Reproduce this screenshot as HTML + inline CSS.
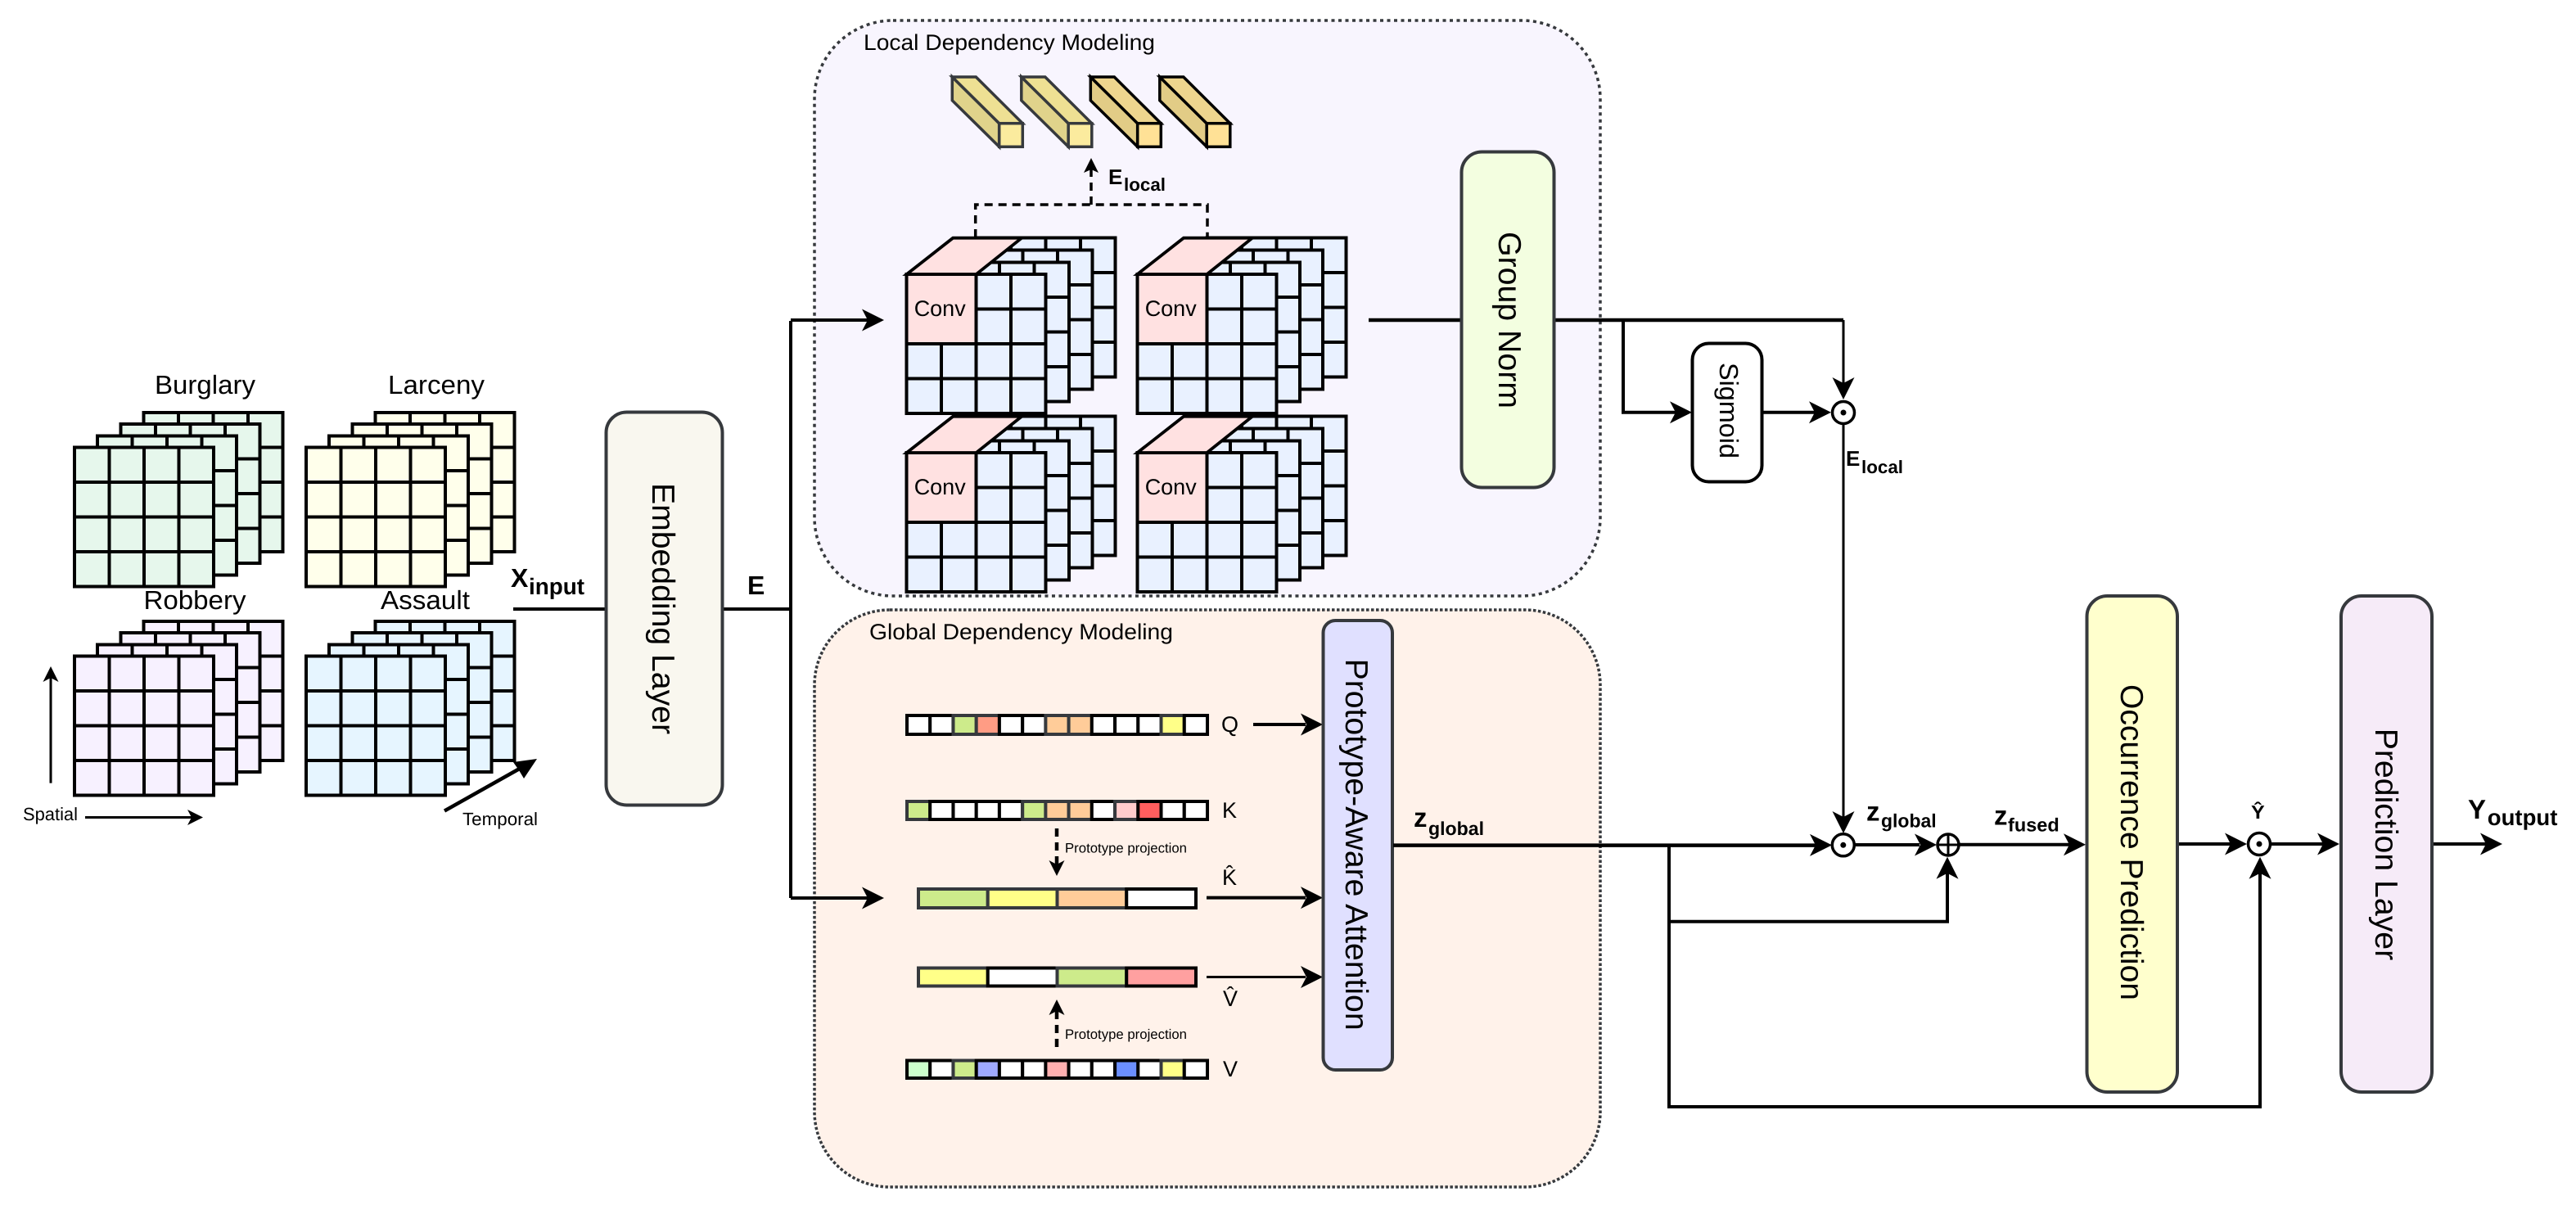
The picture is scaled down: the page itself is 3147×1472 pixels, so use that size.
<!DOCTYPE html>
<html><head><meta charset="utf-8"><style>
html,body{margin:0;padding:0;background:#fff}
svg{display:block}
text{font-family:"Liberation Sans",sans-serif;fill:#000}
.b{font-weight:bold}
.w{fill:#fff;stroke:#000}
.k{stroke:#000}
.d{stroke:#36393d}
.box{stroke:#36393d;stroke-width:4}
.l{stroke:#000;fill:none;stroke-width:4}
</style></head><body>
<svg width="3147" height="1472" viewBox="0 0 3147 1472" xmlns="http://www.w3.org/2000/svg" text-rendering="geometricPrecision">
<defs>
<g id="grid" shape-rendering="crispEdges"><rect width="170" height="170" stroke="#000" stroke-width="4"/><path d="M42.5 0V170M85 0V170M127.5 0V170M0 42.5H170M0 85H170M0 127.5H170" fill="none" stroke="#000" stroke-width="4"/></g>
<g id="stack"><use href="#grid" x="84.5" y="-42.7"/><use href="#grid" x="56.3" y="-28.4"/><use href="#grid" x="28.2" y="-14.2"/><use href="#grid"/></g>
<g id="cube"><g fill="#e9f1ff"><use href="#grid" x="85" y="-44.3"/><use href="#grid" x="56.7" y="-29.3"/><use href="#grid" x="28.3" y="-14.3"/><use href="#grid"/></g>
<rect width="85" height="85" fill="#ffe1e1" stroke="#000" stroke-width="4" shape-rendering="crispEdges"/><path d="M0 0L56.5-44.3H140.5L85 0Z" fill="#ffe1e1" stroke="#000" stroke-width="3.8"/></g>
<polygon id="ah" points="0,0 -27,-13.5 -20,0 -27,13.5" fill="#000"/>
<polygon id="ahs" points="0,0 -19,-9.5 -14,0 -19,9.5" fill="#000"/>
<g id="barA" stroke="#36393d" stroke-width="3.5" stroke-linejoin="miter"><path d="M0 0V28.7L57.4 85.3V56.7Z" fill="#e0d38b"/><path d="M0 0H29L86 56.7H57.4Z" fill="#eee093"/><rect x="57.4" y="56.7" width="28.6" height="28.6" fill="#fbeb9e"/></g>
<g id="barB" stroke="#000" stroke-width="3.5" stroke-linejoin="miter"><path d="M0 0V28.7L57.4 85.3V56.7Z" fill="#e2cc86"/><path d="M0 0H29L86 56.7H57.4Z" fill="#eed58e"/><rect x="57.4" y="56.7" width="28.6" height="28.6" fill="#ffe196"/></g>
</defs>

<!-- group panels -->
<rect x="995" y="25" width="960" height="703" rx="96" ry="96" fill="#f8f5fe" stroke="#36393d" stroke-width="3.5" stroke-dasharray="4 4.5"/>
<rect x="995" y="745" width="960" height="705" rx="92" ry="92" fill="#fff2ea" stroke="#36393d" stroke-width="3.5" stroke-dasharray="3.5 2.5"/>
<text x="1055" y="61" font-size="27" textLength="356" lengthAdjust="spacingAndGlyphs">Local Dependency Modeling</text>
<text x="1062" y="781" font-size="27" textLength="371" lengthAdjust="spacingAndGlyphs">Global Dependency Modeling</text>

<!-- input stacks -->
<use href="#stack" x="91" y="546.5" fill="#e6f7ec"/>
<use href="#stack" x="374" y="546.5" fill="#ffffeb"/>
<use href="#stack" x="91" y="801.5" fill="#f7f1ff"/>
<use href="#stack" x="374" y="801.5" fill="#e6f5ff"/>
<text x="189" y="481" font-size="32" textLength="123" lengthAdjust="spacingAndGlyphs">Burglary</text>
<text x="474" y="481" font-size="32" textLength="118" lengthAdjust="spacingAndGlyphs">Larceny</text>
<text x="175.5" y="744" font-size="32" textLength="125" lengthAdjust="spacingAndGlyphs">Robbery</text>
<text x="465" y="744" font-size="32" textLength="109" lengthAdjust="spacingAndGlyphs">Assault</text>
<text x="28" y="1002" font-size="22" textLength="67" lengthAdjust="spacingAndGlyphs">Spatial</text>
<text x="565" y="1008" font-size="22" textLength="92" lengthAdjust="spacingAndGlyphs">Temporal</text>
<path d="M104 998.5H238M62 956.6V825" class="l" style="stroke-width:3"/>
<use href="#ahs" transform="translate(248,998.5)"/>
<use href="#ahs" transform="translate(62,814) rotate(-90)"/>
<path d="M543 990.6L640 936" class="l" style="stroke-width:4.5"/>
<polygon points="656,927 627,931 634,941 640,951" fill="#000"/>

<!-- X input / Embedding -->
<path d="M627 744H740M883 744H966M966 392V1097M966 391H1060M966 1097H1060" class="l" style="stroke-width:4"/>
<text x="624" y="717" font-size="32" class="b">X</text>
<text x="646" y="726" font-size="28" class="b" textLength="68" lengthAdjust="spacingAndGlyphs">input</text>
<text x="913" y="726" font-size="32" class="b">E</text>
<rect x="740.5" y="503.5" width="142" height="480" rx="25" fill="#f9f7ef" class="box"/>
<text transform="translate(797,590) rotate(90)" font-size="39" textLength="307" lengthAdjust="spacingAndGlyphs">Embedding Layer</text>
<use href="#ah" transform="translate(1080,391)"/>
<use href="#ah" transform="translate(1080,1097)"/>

<!-- Local: dashed -->
<path d="M1191.7 290V250H1475V290M1333 250V205" fill="none" stroke="#000" stroke-width="3.5" stroke-dasharray="10 7"/>
<polygon points="1333,193 1342,211 1333,207 1324,211" fill="#000"/>
<text x="1354" y="225" font-size="26" class="b">E</text>
<text x="1373" y="233" font-size="22" class="b" textLength="51" lengthAdjust="spacingAndGlyphs">local</text>
<!-- bars -->
<use href="#barA" x="1163.3" y="94"/>
<use href="#barA" x="1247.8" y="94"/>
<use href="#barB" x="1332.3" y="94"/>
<use href="#barB" x="1416.8" y="94"/>
<!-- cubes -->
<use href="#cube" x="1107.7" y="335"/>
<use href="#cube" x="1389.5" y="335"/>
<use href="#cube" x="1107.7" y="553"/>
<use href="#cube" x="1389.5" y="553"/>
<text x="1116.7" y="386" font-size="27" textLength="63" lengthAdjust="spacingAndGlyphs">Conv</text>
<text x="1398.7" y="386" font-size="27" textLength="63" lengthAdjust="spacingAndGlyphs">Conv</text>
<text x="1116.7" y="604" font-size="27" textLength="63" lengthAdjust="spacingAndGlyphs">Conv</text>
<text x="1398.7" y="604" font-size="27" textLength="63" lengthAdjust="spacingAndGlyphs">Conv</text>

<!-- Group norm and sigmoid -->
<path d="M1672 391H1785M1899 391H2252" class="l" style="stroke-width:4.5"/>
<path d="M2252 391V470M2252 519V1000" class="l" style="stroke-width:3"/>
<path d="M1983 391V503.7H2050M2153 503.7H2220" class="l"/>
<rect x="1785.5" y="185.5" width="113" height="410" rx="25" fill="#f3fee0" class="box"/>
<text transform="translate(1831,283) rotate(90)" font-size="39" textLength="216" lengthAdjust="spacingAndGlyphs">Group Norm</text>
<rect x="2067.5" y="419.5" width="85" height="169" rx="20" fill="#fff" stroke="#000" stroke-width="4"/>
<text transform="translate(2101,443) rotate(90)" font-size="32" textLength="117" lengthAdjust="spacingAndGlyphs">Sigmoid</text>
<use href="#ah" transform="translate(2067,503.7)"/>
<use href="#ah" transform="translate(2237,503.7)"/>
<use href="#ah" transform="translate(2252,488) rotate(90)"/>
<circle cx="2252" cy="504" r="13.5" fill="#fff" stroke="#000" stroke-width="3.5"/><circle cx="2252" cy="504" r="3.5"/>
<text x="2255" y="569" font-size="26" class="b">E</text>
<text x="2274" y="578" font-size="22" class="b" textLength="51" lengthAdjust="spacingAndGlyphs">local</text>

<!-- token bars -->
<g stroke-width="4">
<g transform="translate(0,874)">
<rect x="1108" width="28.23" height="23" class="w"/><rect x="1136.2" width="28.23" height="23" class="w"/><rect x="1164.5" width="28.23" height="23" fill="#cdeb8b" class="d"/><rect x="1192.7" width="28.23" height="23" fill="#ff9c84" class="d"/><rect x="1220.9" width="28.23" height="23" class="w"/><rect x="1249.2" width="28.23" height="23" class="w"/><rect x="1277.4" width="28.23" height="23" fill="#ffcc99" class="d"/><rect x="1305.6" width="28.23" height="23" fill="#ffcc99" class="d"/><rect x="1333.8" width="28.23" height="23" class="w"/><rect x="1362.1" width="28.23" height="23" class="w"/><rect x="1390.3" width="28.23" height="23" class="w"/><rect x="1418.5" width="28.23" height="23" fill="#ffff88" class="d"/><rect x="1446.8" width="28.23" height="23" class="w"/>
</g>
<g transform="translate(0,979)">
<rect x="1108" width="28.23" height="22" fill="#cdeb8b" class="d"/><rect x="1136.2" width="28.23" height="22" class="w"/><rect x="1164.5" width="28.23" height="22" class="w"/><rect x="1192.7" width="28.23" height="22" class="w"/><rect x="1220.9" width="28.23" height="22" class="w"/><rect x="1249.2" width="28.23" height="22" fill="#cdeb8b" class="d"/><rect x="1277.4" width="28.23" height="22" fill="#ffcc99" class="d"/><rect x="1305.6" width="28.23" height="22" fill="#ffcc99" class="d"/><rect x="1333.8" width="28.23" height="22" class="w"/><rect x="1362.1" width="28.23" height="22" fill="#ffcccc" class="d"/><rect x="1390.3" width="28.23" height="22" fill="#ff5e5e" class="k"/><rect x="1418.5" width="28.23" height="22" class="w"/><rect x="1446.8" width="28.23" height="22" class="w"/>
</g>
<g transform="translate(0,1295.5)">
<rect x="1108" width="28.23" height="21.5" fill="#ccffcc" class="k"/><rect x="1136.2" width="28.23" height="21.5" class="w"/><rect x="1164.5" width="28.23" height="21.5" fill="#cdeb8b" class="d"/><rect x="1192.7" width="28.23" height="21.5" fill="#9fa9ff" class="k"/><rect x="1220.9" width="28.23" height="21.5" class="w"/><rect x="1249.2" width="28.23" height="21.5" class="w"/><rect x="1277.4" width="28.23" height="21.5" fill="#ffb0b0" class="k"/><rect x="1305.6" width="28.23" height="21.5" class="w"/><rect x="1333.8" width="28.23" height="21.5" class="w"/><rect x="1362.1" width="28.23" height="21.5" fill="#6b8fff" class="k"/><rect x="1390.3" width="28.23" height="21.5" class="w"/><rect x="1418.5" width="28.23" height="21.5" fill="#ffff88" class="d"/><rect x="1446.8" width="28.23" height="21.5" class="w"/>
</g>
<g transform="translate(0,1086)">
<rect x="1122" width="84.75" height="23" fill="#cdeb8b" class="d"/><rect x="1206.75" width="84.75" height="23" fill="#ffff88" class="d"/><rect x="1291.5" width="84.75" height="23" fill="#ffcc99" class="d"/><rect x="1376.25" width="84.75" height="23" class="w"/>
</g>
<g transform="translate(0,1182.5)">
<rect x="1122" width="84.75" height="22" fill="#ffff88" class="d"/><rect x="1206.75" width="84.75" height="22" class="w"/><rect x="1291.5" width="84.75" height="22" fill="#cdeb8b" class="d"/><rect x="1376.25" width="84.75" height="22" fill="#ffa0a0" class="k"/>
</g>
</g>
<text x="1492" y="894" font-size="27">Q</text>
<text x="1493" y="999" font-size="27">K</text>
<text x="1493" y="1081" font-size="27">K&#770;</text>
<text x="1494" y="1229" font-size="27">V&#770;</text>
<text x="1494" y="1315" font-size="27">V</text>
<text x="1301" y="1041.7" font-size="16.7" textLength="149" lengthAdjust="spacingAndGlyphs">Prototype projection</text>
<text x="1301" y="1269" font-size="16.7" textLength="149" lengthAdjust="spacingAndGlyphs">Prototype projection</text>
<path d="M1291 1012V1058" fill="none" stroke="#000" stroke-width="4.5" stroke-dasharray="10 7"/>
<path d="M1291 1279V1233" fill="none" stroke="#000" stroke-width="4.5" stroke-dasharray="10 7"/>
<use href="#ahs" transform="translate(1291,1070) rotate(90)"/>
<use href="#ahs" transform="translate(1291,1221) rotate(-90)"/>

<path d="M1531 885H1595M1474 1096.6H1595" class="l"/>
<path d="M1474 1193.5H1595" class="l" style="stroke-width:3"/>
<use href="#ah" transform="translate(1616,885)"/>
<use href="#ah" transform="translate(1616,1096.6)"/>
<use href="#ah" transform="translate(1616,1193.5)"/>
<rect x="1616.5" y="758" width="84.5" height="549" rx="15" fill="#e0e0ff" class="box"/>
<text transform="translate(1644,804.6) rotate(90)" font-size="39" textLength="454" lengthAdjust="spacingAndGlyphs">Prototype-Aware Attention</text>
<text x="1727" y="1010" font-size="33" class="b">z</text>
<text x="1745" y="1020" font-size="23" class="b" textLength="68" lengthAdjust="spacingAndGlyphs">global</text>

<!-- fusion -->
<path d="M1702 1032.6H2220" class="l" style="stroke-width:4.5"/>
<path d="M2039 1033V1352H2761V1056M2039 1125.7H2379V1056" class="l"/>
<path d="M2265 1032H2345M2393 1031.7H2530M2661 1031H2725M2773 1031H2838M2972 1031H3037" class="l"/>
<use href="#ah" transform="translate(2238,1032.4)"/>
<use href="#ah" transform="translate(2252,1018) rotate(90)"/>
<use href="#ah" transform="translate(2366,1032)"/>
<use href="#ah" transform="translate(2548,1031.7)"/>
<use href="#ah" transform="translate(2745,1031)"/>
<use href="#ah" transform="translate(2858,1031)"/>
<use href="#ah" transform="translate(3057,1031)"/>
<use href="#ah" transform="translate(2379,1046.7) rotate(-90)"/>
<use href="#ah" transform="translate(2761,1046.7) rotate(-90)"/>
<circle cx="2251.8" cy="1032.3" r="13.5" fill="#fff" stroke="#000" stroke-width="3.5"/><circle cx="2251.8" cy="1032.3" r="3.5"/>
<circle cx="2380" cy="1032" r="13" fill="#fff" stroke="#000" stroke-width="3.5"/><path d="M2367 1032H2393M2380 1019V1045" stroke="#000" stroke-width="3"/>
<circle cx="2760" cy="1031" r="13.5" fill="#fff" stroke="#000" stroke-width="3.5"/><circle cx="2760" cy="1031" r="3.5"/>

<text x="2280" y="1002.7" font-size="33" class="b">z</text>
<text x="2298" y="1010.7" font-size="23" class="b" textLength="67.7" lengthAdjust="spacingAndGlyphs">global</text>
<text x="2436" y="1007.7" font-size="33" class="b">z</text>
<text x="2453" y="1015.7" font-size="23" class="b" textLength="62.7" lengthAdjust="spacingAndGlyphs">fused</text>
<text x="2750" y="1000" font-size="23" class="b" textLength="16.7" lengthAdjust="spacingAndGlyphs">&#374;</text>
<text x="3015" y="1000" font-size="33" class="b">Y</text>
<text x="3038.8" y="1008" font-size="27.5" class="b" textLength="85.6" lengthAdjust="spacingAndGlyphs">output</text>

<rect x="2549.5" y="728" width="110.5" height="606" rx="25" fill="#ffffcd" class="box"/>
<text transform="translate(2591,836) rotate(90)" font-size="39" textLength="386" lengthAdjust="spacingAndGlyphs">Occurrence Prediction</text>
<rect x="2860" y="728" width="111" height="606" rx="25" fill="#f6ebf8" class="box"/>
<text transform="translate(2902,889.7) rotate(90)" font-size="39" textLength="283.5" lengthAdjust="spacingAndGlyphs">Prediction Layer</text>
</svg>
</body></html>
